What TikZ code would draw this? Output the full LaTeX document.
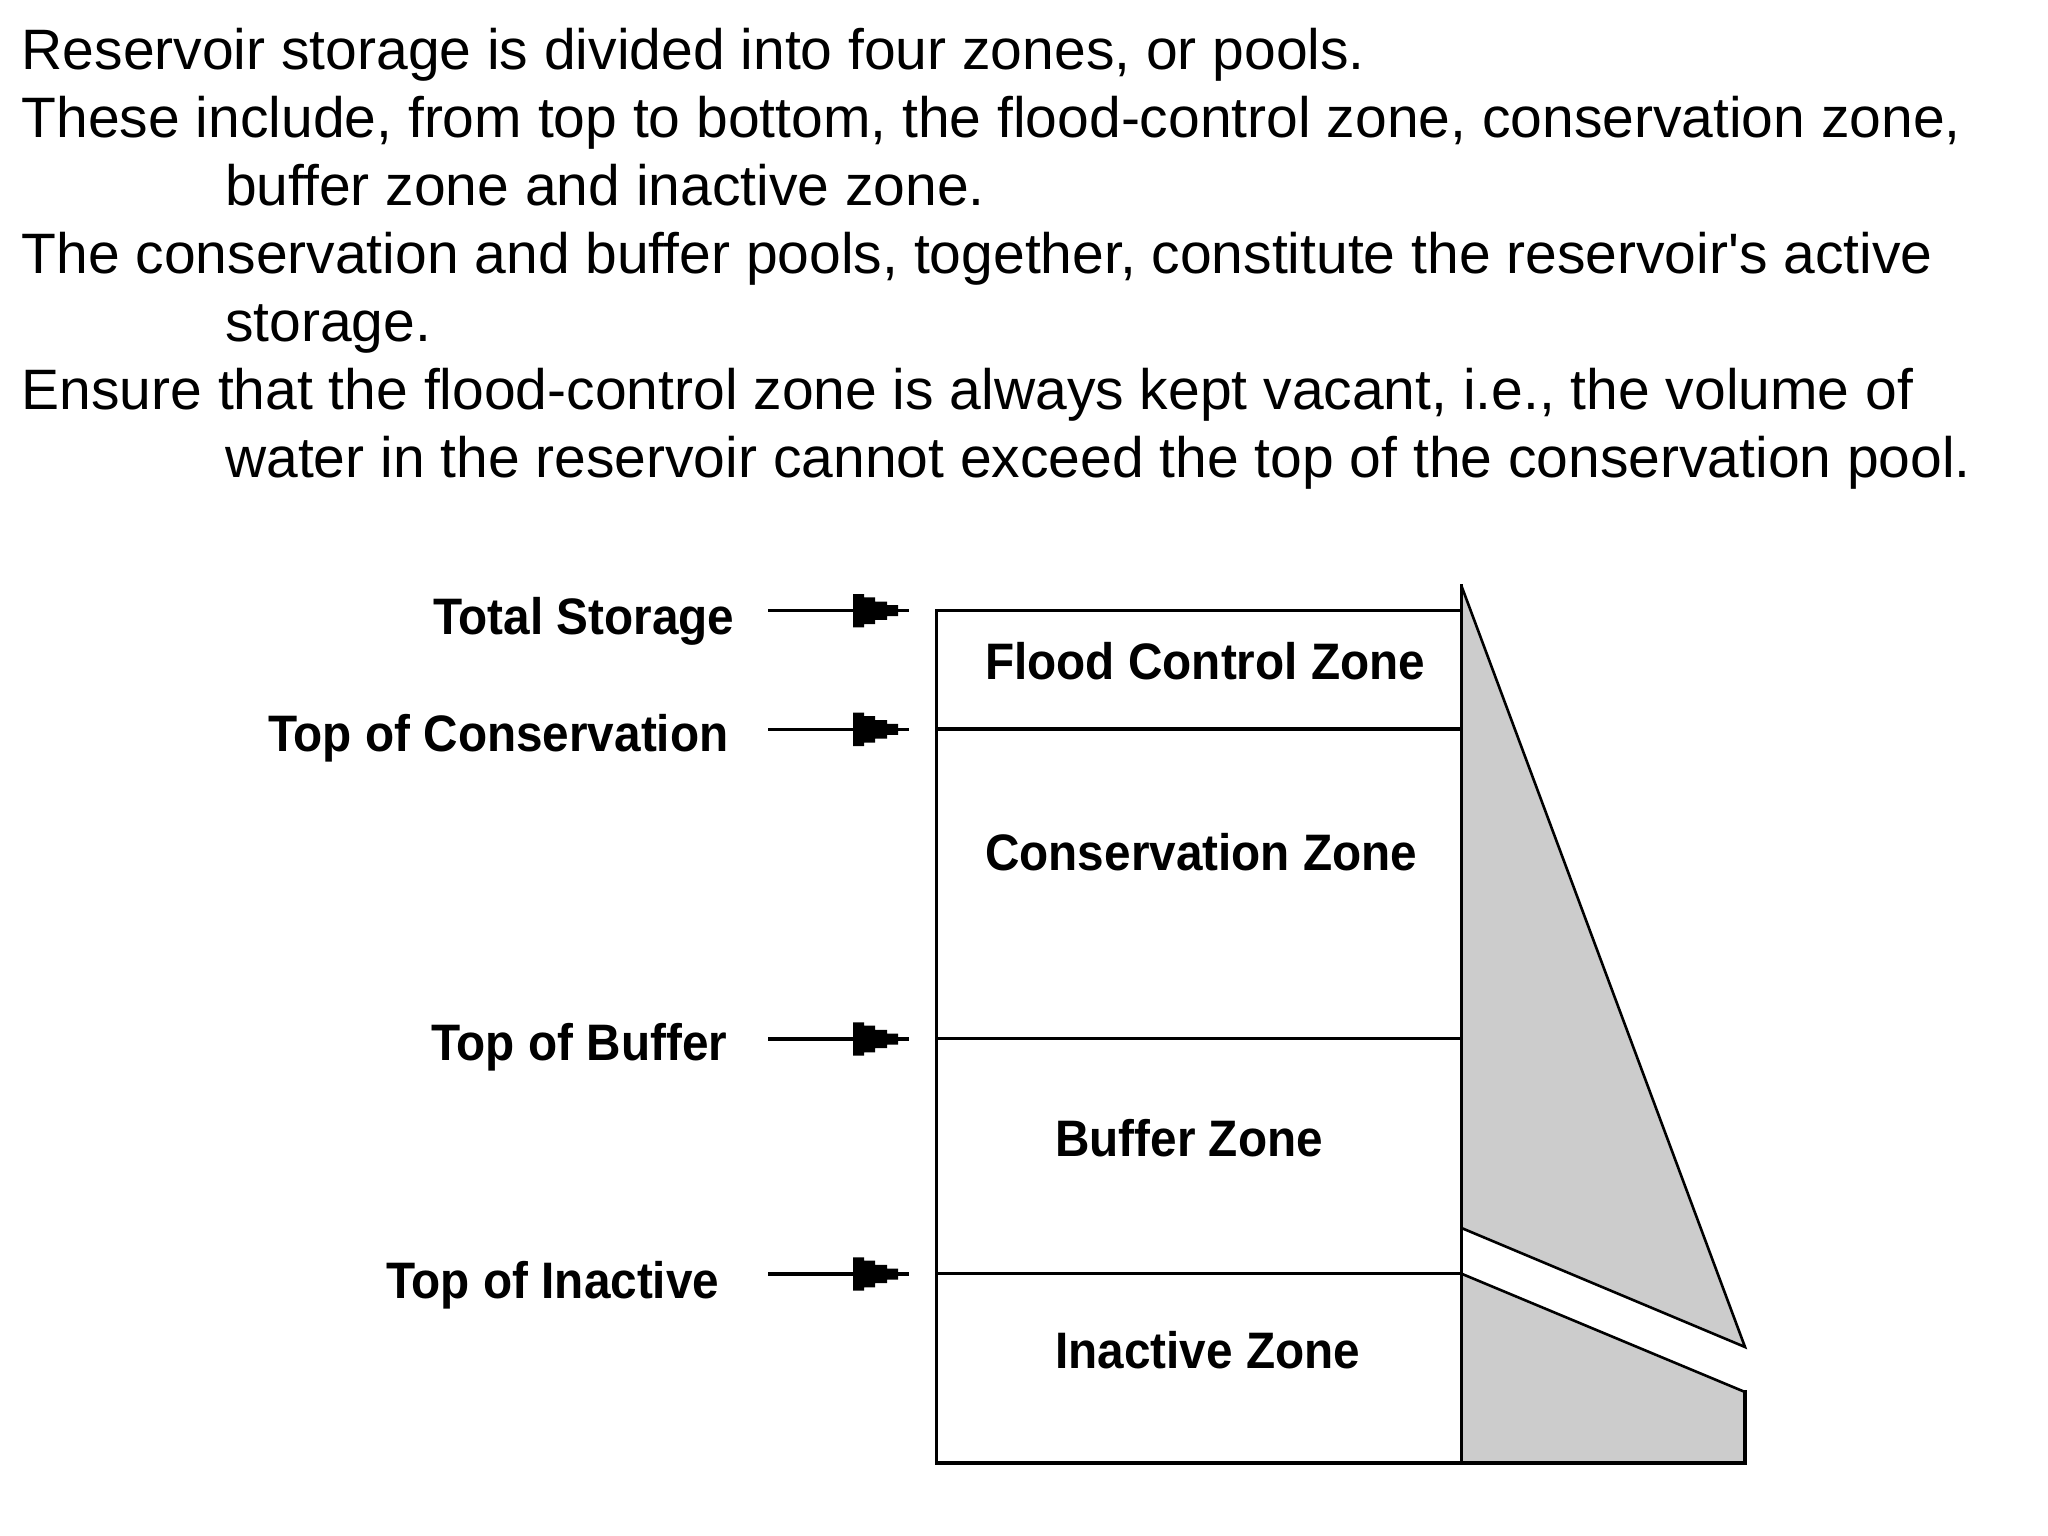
\documentclass[tikz,border=0pt]{standalone}
\usepackage{fontspec}
\setmainfont{Liberation Sans}
\newfontfamily\lblfont{Liberation Sans}[FakeStretch=0.93]
\definecolor{damgray}{HTML}{CCCCCC}
\tikzset{
  para/.style={anchor=base west, inner sep=0pt, font=\fontsize{57}{68}\selectfont},
  lbl/.style={anchor=base west, inner sep=0pt, font=\lblfont\bfseries\fontsize{51.3}{60}\selectfont},
  boxline/.style={line width=3.3pt, line cap=rect},
  damline/.style={line width=2.6pt, line join=miter},
  arrline/.style={line width=3.3pt},
  stephead/.pic={\fill (0,-16.7) -- (11,-16.7) -- (11,-13.3) -- (22,-13.3) -- (22,-9.2) -- (34,-9.2) -- (34,-5.5) -- (45,-5.5) -- (45,5.5) -- (34,5.5) -- (34,9.2) -- (22,9.2) -- (22,13.3) -- (11,13.3) -- (11,16.7) -- (0,16.7) -- cycle;}
}
\begin{document}
\begin{tikzpicture}[x=1pt,y=-1pt]
\useasboundingbox (0,0) rectangle (2048,1536);
\fill[white] (0,0) rectangle (2048,1536);

% paragraph text
\node[para] (t1) at (21.5,70) {Reservoir storage is divided into four zones, or pools.};
\node[para] (t2) at (21.5,137.9) {These include, from top to bottom, the flood-control zone, conservation zone,};
\node[para] (t3) at (225,205.8) {buffer zone and inactive zone.};
\node[para] (t4) at (21.5,273.7) {The conservation and buffer pools, together, constitute the reservoir\textquotesingle s active};
\node[para] (t5) at (225,341.6) {storage.};
\node[para] (t6) at (21.5,409.5) {Ensure that the flood-control zone is always kept vacant, i.e., the volume of};
\node[para] (t7) at (225,477.4) {water in the reservoir cannot exceed the top of the conservation pool.};

% dam fills
\fill[damgray] (1461.5,586) -- (1745,1347) -- (1461.5,1228) -- cycle;
\fill[damgray] (1461.5,1273.7) -- (1745,1392) -- (1745,1463) -- (1461.5,1463) -- cycle;

% reservoir box
\coordinate (btl) at (936.5,610.7);
\coordinate (bbr) at (1461.5,1463);
\draw[boxline] (btl) rectangle (bbr);
\coordinate (c1l) at (936.5,729);    \coordinate (c1r) at (1461.5,729);
\coordinate (c2l) at (936.5,1038.7); \coordinate (c2r) at (1461.5,1038.7);
\coordinate (c3l) at (936.5,1273.7); \coordinate (c3r) at (1461.5,1273.7);
\draw[boxline] (c1l) -- (c1r);
\draw[boxline] (c2l) -- (c2r);
\draw[boxline] (c3l) -- (c3r);

% dam outlines
\coordinate (d1) at (1461.5,586);
\coordinate (d2) at (1745,1347);
\coordinate (d3) at (1461.5,1228);
\draw[damline] (d1) -- (d2) -- (d3);
\draw[boxline] (d1) -- (btl -| d1);
\coordinate (e1) at (1461.5,1273.7);
\coordinate (e2) at (1745,1392);
\coordinate (e3) at (1745,1463);
\draw[damline] (e1) -- (e2);
\draw[boxline] (e2) -- (e3) -- (bbr);

% zone labels
\node[lbl] (zf) at (985,679) {Flood Control Zone};
\node[lbl] (zc) at (985,870) {Conservation Zone};
\node[lbl] (zb) at (1055,1156) {Buffer Zone};
\node[lbl] (zi) at (1055,1368) {Inactive Zone};

% level labels
\node[lbl] (lt) at (433,634) {Total Storage};
\node[lbl] (lc) at (268,751) {Top of Conservation};
\node[lbl] (lb) at (431,1060) {Top of Buffer};
\node[lbl] (li) at (386,1298) {Top of Inactive};

% arrows
\foreach \n/\y in {1/610.7, 2/729.3, 3/1039, 4/1274} {
  \coordinate (as\n) at (768,\y);
  \coordinate (ae\n) at (909,\y);
  \draw[arrline] (as\n) -- (ae\n);
  \pic at (853,\y) {stephead};
}
\end{tikzpicture}
\end{document}
